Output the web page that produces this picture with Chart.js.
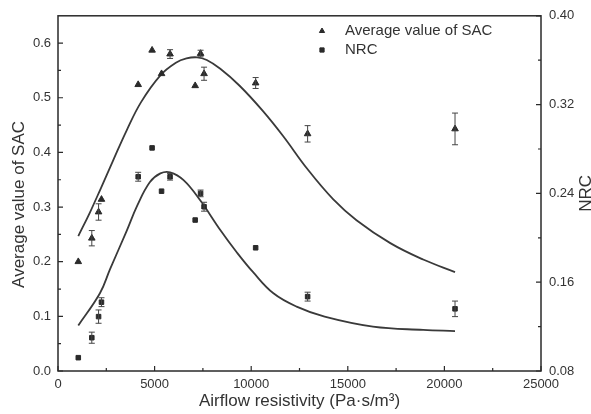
<!DOCTYPE html>
<html>
<head>
<meta charset="utf-8">
<script src="https://cdn.jsdelivr.net/npm/chart.js@4.4.1/dist/chart.umd.min.js"></script>
<style>
  html, body { margin: 0; padding: 0; background: #fff; }
</style>
</head>
<body>
<canvas id="chart" width="591" height="414"></canvas>
<script>
// measured samples (airflow resistivity, Pa·s/m³)
const airflow = [1050, 1750, 2100, 2250, 4150, 4870, 5360, 5800, 7100, 7380, 7560, 10230, 12920, 20550];
const sacAvg  = [0.200, 0.243, 0.291, 0.314, 0.524, 0.587, 0.544, 0.580, 0.522, 0.581, 0.544, 0.527, 0.434, 0.443];
const sacErr  = [0, 0.014, 0.015, 0, 0, 0, 0, 0.008, 0, 0.006, 0.012, 0.010, 0.015, 0.029];
const nrc     = [0.092, 0.110, 0.129, 0.142, 0.255, 0.281, 0.242, 0.255, 0.216, 0.240, 0.228, 0.191, 0.147, 0.136];
const nrcErr  = [0, 0.005, 0.006, 0.004, 0.004, 0, 0, 0.003, 0, 0.003, 0.004, 0, 0.004, 0.007];

// fitted curves
const sacFitX = [1050, 1650, 2200, 2850, 3550, 4300, 5300, 6100, 6650, 7200, 7700, 8400, 9400, 10600, 11650, 12900, 14250, 15450, 17200, 18900, 20550];
const sacFit  = [0.247, 0.290, 0.333, 0.385, 0.440, 0.492, 0.541, 0.564, 0.572, 0.574, 0.569, 0.553, 0.522, 0.476, 0.430, 0.370, 0.314, 0.276, 0.234, 0.204, 0.181];
const nrcFitX = [1050, 2170, 2700, 3550, 4100, 4750, 5300, 5800, 6500, 7350, 8400, 9250, 10100, 11150, 12350, 13800, 16300, 18900, 20550];
const nrcFit  = [0.121, 0.150, 0.172, 0.206, 0.229, 0.250, 0.258, 0.259, 0.252, 0.234, 0.207, 0.187, 0.169, 0.150, 0.138, 0.129, 0.120, 0.117, 0.116];

const xTicks   = [0, 5000, 10000, 15000, 20000, 25000];
const sacTicks = [0, 0.1, 0.2, 0.3, 0.4, 0.5, 0.6];
const nrcTicks = [0.08, 0.16, 0.24, 0.32, 0.40];

const INK = '#2a2a2a';
const TEXT = '#333';
const FAMILY = 'Arial, "Liberation Sans", sans-serif';

const halves = t => t.slice(1).map((v, i) => (v + t[i]) / 2);
const pts = (xs, ys) => xs.map((x, i) => ({ x, y: ys[i] }));

// box + inward tick marks, Origin style
const frameTicks = {
  id: 'frameTicks',
  beforeDatasetsDraw(chart) {
    const { ctx, chartArea: a, scales } = chart;
    ctx.save();
    ctx.strokeStyle = INK;
    ctx.lineWidth = 1.5;
    ctx.strokeRect(a.left, a.top, a.right - a.left, a.bottom - a.top);
    ctx.lineWidth = 1.2;
    ctx.beginPath();
    const xMark = (v, len) => { const p = scales.x.getPixelForValue(v); ctx.moveTo(p, a.bottom); ctx.lineTo(p, a.bottom - len); };
    const yMark = (v, len) => { const p = scales.y.getPixelForValue(v); ctx.moveTo(a.left, p); ctx.lineTo(a.left + len, p); };
    const y2Mark = (v, len) => { const p = scales.y2.getPixelForValue(v); ctx.moveTo(a.right, p); ctx.lineTo(a.right - len, p); };
    xTicks.forEach(v => xMark(v, 5));
    halves(xTicks).forEach(v => xMark(v, 3));
    sacTicks.forEach(v => yMark(v, 5));
    halves(sacTicks).forEach(v => yMark(v, 3));
    nrcTicks.forEach(v => y2Mark(v, 5));
    halves(nrcTicks).forEach(v => y2Mark(v, 3));
    ctx.stroke();
    ctx.restore();
  }
};

// vertical error bars with caps
const errorBars = {
  id: 'errorBars',
  afterDatasetsDraw(chart) {
    const { ctx, scales } = chart;
    ctx.save();
    ctx.strokeStyle = '#444';
    ctx.lineWidth = 1;
    const draw = (vals, errs, scale) => {
      ctx.beginPath();
      airflow.forEach((x, i) => {
        if (!errs[i]) return;
        const px = scales.x.getPixelForValue(x);
        const hi = scale.getPixelForValue(vals[i] + errs[i]);
        const lo = scale.getPixelForValue(vals[i] - errs[i]);
        ctx.moveTo(px, hi); ctx.lineTo(px, lo);
        ctx.moveTo(px - 3, hi); ctx.lineTo(px + 3, hi);
        ctx.moveTo(px - 3, lo); ctx.lineTo(px + 3, lo);
      });
      ctx.stroke();
    };
    draw(sacAvg, sacErr, scales.y);
    draw(nrc, nrcErr, scales.y2);
    ctx.restore();
  }
};

// rotated axis title, reading bottom to top
function sideTitle(ctx, text, x, y) {
  ctx.save();
  ctx.translate(x, y);
  ctx.rotate(-Math.PI / 2);
  ctx.font = '17px ' + FAMILY;
  ctx.fillStyle = TEXT;
  ctx.textAlign = 'center';
  ctx.textBaseline = 'middle';
  ctx.fillText(text, 0, 0);
  ctx.restore();
}

// legend inside the plot and both y axis titles
const overlay = {
  id: 'overlay',
  afterDraw(chart) {
    const { ctx, chartArea: a } = chart;
    ctx.save();
    ctx.font = '15px ' + FAMILY;
    ctx.textBaseline = 'middle';
    chart.data.datasets.slice(0, 2).forEach((ds, i) => {
      const y = 31 + i * 19;
      ctx.fillStyle = INK; ctx.strokeStyle = INK;
      Chart.helpers.drawPoint(ctx, { pointStyle: ds.pointStyle, radius: 3, borderWidth: 1, rotation: 0 }, 322, y);
      ctx.fillStyle = TEXT;
      ctx.fillText(ds.label, 345, y);
    });
    ctx.restore();
    const mid = (a.top + a.bottom) / 2;
    sideTitle(ctx, 'Average value of SAC', 19, mid + 11);
    sideTitle(ctx, 'NRC', 586, mid);
  }
};

new Chart(document.getElementById('chart'), {
  type: 'scatter',
  data: {
    datasets: [
      { label: 'Average value of SAC', data: pts(airflow, sacAvg), yAxisID: 'y',
        pointStyle: 'triangle', pointRadius: 3.8, backgroundColor: INK, borderColor: INK, borderWidth: 1, order: 1 },
      { label: 'NRC', data: pts(airflow, nrc), yAxisID: 'y2',
        pointStyle: 'rect', pointRadius: 3.2, backgroundColor: INK, borderColor: INK, borderWidth: 1, order: 1 },
      { type: 'line', label: 'SAC fit', data: pts(sacFitX, sacFit), yAxisID: 'y',
        showLine: true, pointRadius: 0, borderColor: '#3a3a3a', borderWidth: 1.8,
        tension: 0.4, fill: false, order: 2 },
      { type: 'line', label: 'NRC fit', data: pts(nrcFitX, nrcFit), yAxisID: 'y2',
        showLine: true, pointRadius: 0, borderColor: '#3a3a3a', borderWidth: 1.8,
        tension: 0.4, fill: false, order: 2 }
    ]
  },
  options: {
    responsive: false,
    animation: false,
    layout: { padding: { top: 15, left: 0, right: 0, bottom: 0 } },
    plugins: { legend: { display: false }, tooltip: { enabled: false } },
    scales: {
      x: {
        type: 'linear', min: 0, max: 25000,
        afterBuildTicks: s => { s.ticks = xTicks.map(v => ({ value: v })); },
        afterFit: s => { s.height = 43; },
        grid: { display: false, drawTicks: false }, border: { display: false },
        ticks: { font: { family: FAMILY, size: 13 }, color: TEXT, padding: 6, maxRotation: 0, autoSkip: false, callback: v => String(v) },
        title: { display: true, text: 'Airflow resistivity (Pa·s/m³)', font: { family: FAMILY, size: 17 }, color: TEXT, padding: { top: 0, bottom: 2 } }
      },
      y: {
        position: 'left', min: 0, max: 0.65,
        afterBuildTicks: s => { s.ticks = sacTicks.map(v => ({ value: v })); },
        afterFit: s => { s.width = 58; },
        grid: { display: false, drawTicks: false }, border: { display: false },
        ticks: { font: { family: FAMILY, size: 13 }, color: TEXT, padding: 7, callback: v => v.toFixed(1) }
      },
      y2: {
        position: 'right', min: 0.08, max: 0.40,
        afterBuildTicks: s => { s.ticks = nrcTicks.map(v => ({ value: v })); },
        afterFit: s => { s.width = 50; },
        grid: { display: false, drawTicks: false }, border: { display: false },
        ticks: { font: { family: FAMILY, size: 13 }, color: TEXT, padding: 8, callback: v => v.toFixed(2) }
      }
    }
  },
  plugins: [frameTicks, errorBars, overlay]
});
</script>
</body>
</html>
